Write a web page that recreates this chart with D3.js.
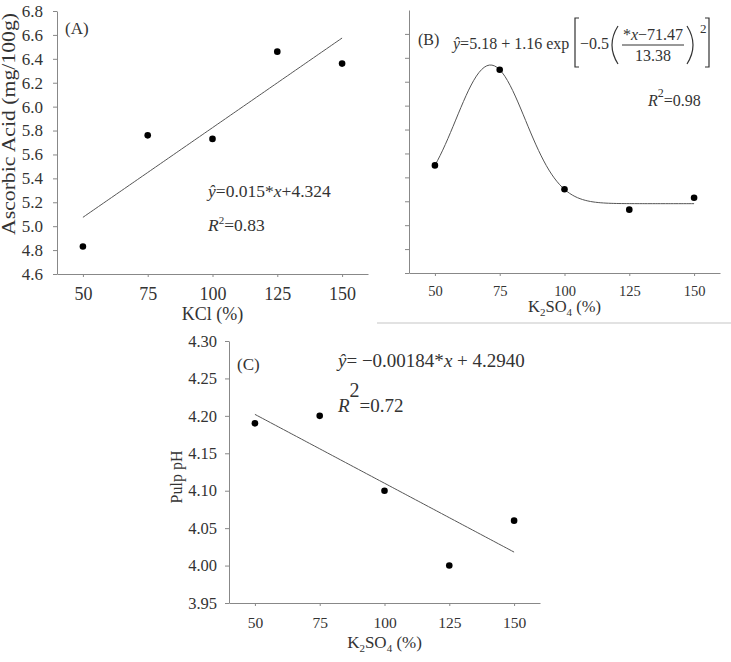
<!DOCTYPE html>
<html>
<head>
<meta charset="utf-8">
<script src="https://cdn.jsdelivr.net/npm/d3@7/dist/d3.min.js"></script>
<style>
  body { margin: 0; background: #fff; }
  svg text { font-family: "Liberation Serif", "Times New Roman", serif; fill: #333; }
  .axis path, .axis line { stroke: #888; }
</style>
</head>
<body>
<svg id="chart" width="731" height="662"></svg>
<script>
// values
const doses = [50, 75, 100, 125, 150];
const ascorbicKCl = [4.83, 5.76, 5.73, 6.46, 6.36];
const ascorbicK2SO4 = [5.50, 6.30, 5.30, 5.13, 5.23];
const pulpPH = [4.19, 4.20, 4.10, 4.00, 4.06];

const ascorbicTicks = [4.6, 4.8, 5.0, 5.2, 5.4, 5.6, 5.8, 6.0, 6.2, 6.4, 6.6, 6.8];
const phTicks = [3.95, 4.00, 4.05, 4.10, 4.15, 4.20, 4.25, 4.30];

// fit coefficients printed on the panels
const linA = [0.015, 4.324];
const gaussB = [5.18, 1.16, 71.47, 13.38];
const linC = [-0.00184, 4.2940];

const svg = d3.select("#chart");

function panel(cfg) {
  const x = d3.scaleLinear().domain([40, 160]).range(cfg.xr);
  const y = d3.scaleLinear().domain(cfg.yd).range(cfg.yr);
  const g = svg.append("g");

  const ax = g.append("g").attr("class", "axis")
    .attr("transform", `translate(0,${cfg.yr[0]})`)
    .call(d3.axisBottom(x).tickValues(doses).tickSize(3).tickSizeOuter(0));
  ax.selectAll("text").attr("y", cfg.xTickY).attr("dy", 0)
    .style("font-size", cfg.xTickFs + "px").style("font-family", null);

  const ay = g.append("g").attr("class", "axis")
    .attr("transform", `translate(${cfg.xr[0]},0)`)
    .call(d3.axisLeft(y).tickValues(cfg.yTicks).tickSize(4).tickSizeOuter(0)
      .tickFormat(cfg.yLabels ? d3.format(cfg.yFmt) : ""));
  ay.selectAll("text").attr("x", cfg.yTickX)
    .style("font-size", cfg.yTickFs + "px").style("font-family", null);
  g.selectAll(".axis text").attr("fill", "#333");
  g.selectAll(".axis .domain").attr("stroke", "#888");

  // fitted curve
  const pts = d3.range(50, 150.5, 1).map(v => [v, cfg.fit(v)]);
  g.append("path").datum(pts)
    .attr("fill", "none").attr("stroke", "#555").attr("stroke-width", 1)
    .attr("d", d3.line().x(d => x(d[0])).y(d => y(d[1])));

  g.selectAll(".pt").data(cfg.values).enter().append("circle")
    .attr("cx", (d, i) => x(doses[i])).attr("cy", d => y(d))
    .attr("r", 3.3).attr("fill", "#000");

  return { g, x, y };
}

function k2so4(g, x, y, fs) {
  const t = g.append("text").attr("x", x).attr("y", y).attr("text-anchor", "middle")
    .style("font-size", fs + "px");
  t.append("tspan").text("K");
  t.append("tspan").attr("dy", 4).style("font-size", "11px").text("2");
  t.append("tspan").attr("dy", -4).text("SO");
  t.append("tspan").attr("dy", 4).style("font-size", "11px").text("4");
  t.append("tspan").attr("dy", -4).text(" (%)");
}

// ---- (A) ----
const A = panel({
  xr: [57, 368], yd: [4.6, 6.8], yr: [274, 11],
  yTicks: ascorbicTicks, yLabels: true, yFmt: ".1f",
  xTickY: 26, xTickFs: 18, yTickX: -14, yTickFs: 17,
  values: ascorbicKCl, fit: v => linA[0] * v + linA[1]
});
A.g.append("text").attr("x", A.x(100)).attr("y", 320).attr("text-anchor", "middle")
  .style("font-size", "18px").text("KCl (%)");
A.g.append("text").attr("transform", "translate(15,124) rotate(-90)")
  .attr("text-anchor", "middle").attr("textLength", 222).attr("lengthAdjust", "spacingAndGlyphs")
  .style("font-size", "18px").text("Ascorbic Acid (mg/100g)");
A.g.append("text").attr("x", 65).attr("y", 34).style("font-size", "17px").text("(A)");
const eqA = A.g.append("text").attr("x", 208).attr("y", 197).style("font-size", "17.5px");
eqA.append("tspan").style("font-style", "italic").text("ŷ");
eqA.append("tspan").text("=0.015*");
eqA.append("tspan").style("font-style", "italic").text("x");
eqA.append("tspan").text("+4.324");
const r2A = A.g.append("text").attr("x", 208).attr("y", 231).style("font-size", "17.5px");
r2A.append("tspan").style("font-style", "italic").text("R");
r2A.append("tspan").attr("dy", -7).style("font-size", "11px").text("2");
r2A.append("tspan").attr("dy", 7).text("=0.83");

// ---- (B) ----
const B = panel({
  xr: [409, 720], yd: [4.6, 6.8], yr: [273, 10],
  yTicks: ascorbicTicks.slice(0, 11), yLabels: false,
  xTickY: 23, xTickFs: 14.5, yTickX: -10, yTickFs: 14,
  values: ascorbicK2SO4,
  fit: v => gaussB[0] + gaussB[1] * Math.exp(-0.5 * Math.pow((v - gaussB[2]) / gaussB[3], 2))
});
k2so4(B.g, B.x(100), 312, 16.5);
B.g.append("text").attr("x", 418).attr("y", 45).style("font-size", "16px").text("(B)");
const eqB = B.g.append("text").attr("x", 453).attr("y", 49).style("font-size", "16px");
eqB.append("tspan").style("font-style", "italic").text("ŷ");
eqB.append("tspan").text("=" + gaussB[0].toFixed(2) + " + " + gaussB[1].toFixed(2) + " exp");
B.g.append("text").attr("x", 580).attr("y", 49).style("font-size", "16px").text("−0.5");
const num = B.g.append("text").attr("x", 653).attr("y", 40).attr("text-anchor", "middle").style("font-size", "16px");
num.append("tspan").text("*");
num.append("tspan").style("font-style", "italic").text("x");
num.append("tspan").text("−" + gaussB[2].toFixed(2));
B.g.append("text").attr("x", 653).attr("y", 61).attr("text-anchor", "middle").style("font-size", "16px")
  .text(gaussB[3].toFixed(2));
B.g.append("line").attr("x1", 622).attr("x2", 684).attr("y1", 45).attr("y2", 45)
  .attr("stroke", "#333").attr("stroke-width", 1);
const bracket = [
  "M579,18H575V67H579",
  "M705,18H709V67H705",
  "M618,26Q606,45 618,64",
  "M687,26Q699,45 687,64"
];
B.g.selectAll(".br").data(bracket).enter().append("path")
  .attr("d", d => d).attr("fill", "none").attr("stroke", "#333").attr("stroke-width", 1.2);
B.g.append("text").attr("x", 700).attr("y", 33).style("font-size", "13px").text("2");
const r2B = B.g.append("text").attr("x", 648).attr("y", 106).style("font-size", "16px");
r2B.append("tspan").style("font-style", "italic").text("R");
r2B.append("tspan").attr("dy", -9).style("font-size", "12px").text("2");
r2B.append("tspan").attr("dy", 9).text("=0.98");

// stray separator line under panel B
svg.append("line").attr("x1", 377).attr("x2", 731).attr("y1", 323).attr("y2", 323)
  .attr("stroke", "#e2e2e2").attr("stroke-width", 2);

// ---- (C) ----
const C = panel({
  xr: [229, 540], yd: [3.95, 4.30], yr: [603, 341],
  yTicks: phTicks, yLabels: true, yFmt: ".2f",
  xTickY: 25, xTickFs: 15.5, yTickX: -12, yTickFs: 16.5,
  values: pulpPH, fit: v => linC[0] * v + linC[1]
});
k2so4(C.g, C.x(100), 648, 17);
C.g.append("text").attr("transform", "translate(182,477) rotate(-90)")
  .attr("text-anchor", "middle").style("font-size", "16px").text("Pulp pH");
C.g.append("text").attr("x", 237).attr("y", 370).style("font-size", "17px").text("(C)");
const eqC = C.g.append("text").attr("x", 338).attr("y", 367).style("font-size", "19px");
eqC.append("tspan").style("font-style", "italic").text("ŷ");
eqC.append("tspan").text("= −0.00184*");
eqC.append("tspan").style("font-style", "italic").text("x");
eqC.append("tspan").text(" + 4.2940");
const r2C = C.g.append("text").attr("x", 338).attr("y", 412).style("font-size", "19px");
r2C.append("tspan").style("font-style", "italic").text("R");
r2C.append("tspan").attr("dy", -15).style("font-size", "20px").text("2");
r2C.append("tspan").attr("dy", 15).text("=0.72");
</script>
</body>
</html>
